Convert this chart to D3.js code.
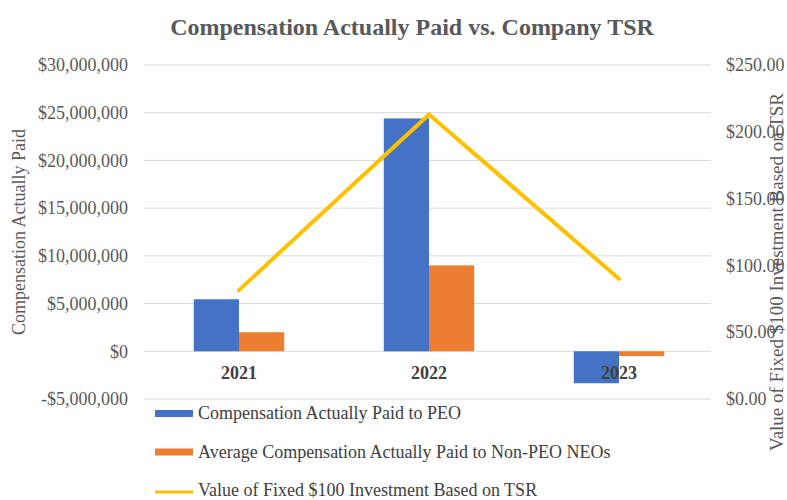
<!DOCTYPE html>
<html>
<head>
<meta charset="utf-8">
<script src="https://cdn.jsdelivr.net/npm/d3@7"></script>
<style>
  body { margin: 0; background: #fff; }
  text { font-family: "Liberation Serif", "Times New Roman", serif; }
</style>
</head>
<body>
<svg></svg>
<script>
// canvas
let width = 787
let height = 500
let margin = {top: 65, right: 76, bottom: 101, left: 144}

// data
const years = ['2021', '2022', '2023']
const peoPaid = [5450000, 24400000, -3350000]
const neoPaid = [2000000, 9000000, -500000]
const tsrValue = [81.5, 213, 90]
const leftTicks = [-5000000, 0, 5000000, 10000000, 15000000, 20000000, 25000000, 30000000]
const rightTicks = [0, 50, 100, 150, 200, 250]
const seriesNames = ['Compensation Actually Paid to PEO', 'Average Compensation Actually Paid to Non-PEO NEOs', 'Value of Fixed $100 Investment Based on TSR']
const colors = ['#4472C4', '#ED7D31', '#FFC000']

let svg = d3.select('svg').attr('width', width).attr('height', height)

let plotLeft = margin.left
let plotRight = width - margin.right
let plotTop = margin.top
let plotBottom = height - margin.bottom

// scales
let xScale = d3.scaleBand().domain(years).range([plotLeft, plotRight + 3])
let bw = xScale.bandwidth()
let x1 = d3.scaleBand().domain([0, 1]).range([bw * 0.262, bw * 0.738])
let yLeft = d3.scaleLinear().domain([-5000000, 30000000]).range([plotBottom, plotTop])
let yRight = d3.scaleLinear().domain([0, 250]).range([plotBottom, plotTop])

let money = d3.format('$,.0f')
let fmtLeft = v => v < 0 ? '-' + money(-v) : money(v)
let fmtRight = v => '$' + d3.format('.2f')(v)

// gridlines
svg.append('g')
  .selectAll('line')
  .data(leftTicks)
  .enter()
  .append('line')
  .attr('x1', plotLeft)
  .attr('x2', plotRight)
  .attr('y1', d => yLeft(d))
  .attr('y2', d => yLeft(d))
  .attr('stroke', '#d9d9d9')
  .attr('stroke-width', 1)

// left axis
let leftAxis = d3.axisLeft(yLeft).tickValues(leftTicks).tickFormat(fmtLeft).tickSize(0).tickPadding(16)
let gl = svg.append('g').attr('transform', 'translate(' + plotLeft + ',0)').call(leftAxis)
gl.select('.domain').remove()
gl.selectAll('text').attr('font-size', 18).attr('fill', '#595959')

// right axis
let rightAxis = d3.axisRight(yRight).tickValues(rightTicks).tickFormat(fmtRight).tickSize(0).tickPadding(16)
let gr = svg.append('g').attr('transform', 'translate(' + (plotRight - 1) + ',0)').call(rightAxis)
gr.select('.domain').remove()
gr.selectAll('text').attr('font-size', 18).attr('fill', '#595959')

// bars
let barData = []
years.forEach((y, i) => {
  barData.push({year: y, s: 0, v: peoPaid[i]})
  barData.push({year: y, s: 1, v: neoPaid[i]})
})
svg.append('g')
  .selectAll('rect')
  .data(barData)
  .enter()
  .append('rect')
  .attr('x', d => xScale(d.year) + x1(d.s))
  .attr('width', x1.bandwidth())
  .attr('y', d => yLeft(Math.max(0, d.v)))
  .attr('height', d => Math.abs(yLeft(d.v) - yLeft(0)))
  .attr('fill', d => colors[d.s])

// category labels (drawn over the bars, like the original)
svg.append('g')
  .selectAll('text')
  .data(years)
  .enter()
  .append('text')
  .attr('x', d => xScale(d) + bw / 2)
  .attr('y', yLeft(0) + 28)
  .attr('text-anchor', 'middle')
  .attr('font-size', 18)
  .attr('font-weight', 'bold')
  .attr('fill', '#404040')
  .text(d => d)

// TSR line
let line = d3.line()
  .x((d, i) => xScale(years[i]) + bw / 2)
  .y(d => yRight(d))
svg.append('path')
  .datum(tsrValue)
  .attr('d', line)
  .attr('fill', 'none')
  .attr('stroke', colors[2])
  .attr('stroke-width', 4)
  .attr('stroke-linecap', 'round')

// title
svg.append('text')
  .attr('x', 412)
  .attr('y', 35)
  .attr('text-anchor', 'middle')
  .attr('font-size', 24)
  .attr('font-weight', 'bold')
  .attr('fill', '#595959')
  .text('Compensation Actually Paid vs. Company TSR')

// axis titles
svg.append('text')
  .attr('transform', 'translate(25,232) rotate(-90)')
  .attr('text-anchor', 'middle')
  .attr('font-size', 18)
  .attr('fill', '#595959')
  .text('Compensation Actually Paid')

svg.append('text')
  .attr('transform', 'translate(783,272) rotate(-90)')
  .attr('text-anchor', 'middle')
  .attr('font-size', 19)
  .attr('fill', '#595959')
  .text('Value of Fixed $100 Investment Based on TSR')

// legend
let legend = svg.append('g')
seriesNames.forEach((name, i) => {
  let ly = 413 + i * 38.5
  if (i < 2) {
    legend.append('rect').attr('x', 155).attr('y', ly - 3).attr('width', 38).attr('height', 7).attr('fill', colors[i])
  } else {
    legend.append('line').attr('x1', 155).attr('x2', 193).attr('y1', ly + 2).attr('y2', ly + 2)
      .attr('stroke', colors[i]).attr('stroke-width', 3)
  }
  legend.append('text')
    .attr('x', 198)
    .attr('y', ly + 6)
    .attr('font-size', 18)
    .attr('fill', '#404040')
    .text(name)
})
</script>
</body>
</html>
